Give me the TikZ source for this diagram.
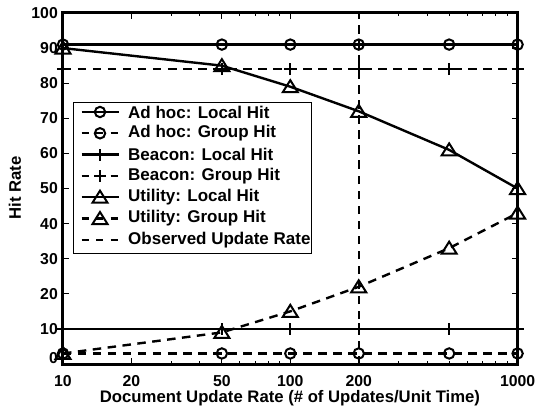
\documentclass[tikz,border=0pt]{standalone}
\usepackage{fontspec}
\setmainfont{Liberation Sans}
\begin{document}
\begin{tikzpicture}[x=1pt,y=1pt,
  declare function={px(\v)=63+227.3*(log10(\v)-1); py(\v)=46+3.51*\v;},
  lw/.style={line width=2.4pt},
  dsh/.style={dash pattern=on 8.5pt off 6.5pt},
  ldsh/.style={dash pattern=on 7pt off 7.5pt},
  txt/.style={font=\bfseries\fontsize{16.7}{16.7}\selectfont, inner sep=0pt},
  lgt/.style={font=\bfseries\fontsize{17}{17}\selectfont, inner sep=0pt},
  tck/.style={font=\bfseries\fontsize{15.8}{15.8}\selectfont, inner sep=0pt},
  mcirc/.pic={\draw[line width=2pt,solid] (0,0) circle (5.2);},
  mtri/.pic={\draw[line width=2pt,solid,line join=miter] (0,6.5) -- (-7.5,-5.5) -- (7.5,-5.5) -- cycle;},
  mplus/.pic={\draw[line width=2pt,solid] (-6,0)--(6,0) (0,-6)--(0,6);}
]
\useasboundingbox (0,0) rectangle (537,410);
\fill[white] (0,0) rectangle (537,410);

% ticks
\foreach \v in {0,10,...,100}{
  \draw[line width=1.2pt] ({px(10)},{py(\v)}) -- ++(6,0);
  \draw[line width=1.2pt] ({px(1000)},{py(\v)}) -- ++(-6,0);
}
\foreach \v in {10,20,50,100,200,1000}{
  \draw[line width=1.2pt] ({px(\v)},{py(0)}) -- ++(0,6);
  \draw[line width=1.2pt] ({px(\v)},{py(100)}) -- ++(0,-6);
}
\foreach \v in {30,40,60,70,80,90,300,400,500,600,700,800,900}{
  \draw[line width=1pt] ({px(\v)},{py(0)}) -- ++(0,3);
  \draw[line width=1pt] ({px(\v)},{py(100)}) -- ++(0,-3);
}

% tick labels
\foreach \v in {10,20,...,100}{
  \node[tck,anchor=east] (yl\v) at (58,{py(\v)}) {\v};
}
\node[tck,anchor=east] (yl0) at (58,{py(0)+6}) {0};
\foreach \v in {10,20,50,100,200,1000}{
  \node[tck] (xl\v) at ({px(\v)},29) {\v};
}
\node[txt] (xlab) at (290,12) {Document Update Rate (\# of Updates/Unit Time)};
\node[txt,rotate=90] (ylab) at (15,222) {Hit Rate};

% data lines
\draw[lw] ({px(10)},{py(91)}) -- ({px(1000)},{py(91)});
\draw[lw,dsh] ({px(10)},{py(3)}) -- ({px(1000)},{py(3)});
\draw[lw] ({px(10)},{py(10)}) -- ({px(1000)},{py(10)});
\draw[lw,dsh] ({px(10)},{py(84)}) -- ({px(1000)},{py(84)});
\draw[lw] ({px(10)},{py(90)}) -- ({px(50)},{py(85)}) -- ({px(100)},{py(79)})
  -- ({px(200)},{py(72)}) -- ({px(500)},{py(61)}) -- ({px(1000)},{py(50)});
\draw[lw,dsh] ({px(10)},{py(3)}) -- ({px(50)},{py(9)}) -- ({px(100)},{py(15)})
  -- ({px(200)},{py(22)}) -- ({px(500)},{py(33)}) -- ({px(1000)},{py(43)});
\draw[lw,dsh] ({px(200)},{py(0)}) -- ({px(200)},{py(100)});

% markers
\foreach \x in {10,50,100,200,500,1000}{
  \pic at ({px(\x)},{py(91)}) {mcirc};
  \pic at ({px(\x)},{py(3)}) {mcirc};
  \pic at ({px(\x)},{py(10)}) {mplus};
  \pic at ({px(\x)},{py(84)}) {mplus};
}
\foreach \x/\a/\b in {10/90/3,50/85/9,100/79/15,200/72/22,500/61/33,1000/50/43}{
  \pic at ({px(\x)},{py(\a)}) {mtri};
  \pic at ({px(\x)},{py(\b)}) {mtri};
}

% axes box
\draw[line width=3pt] ({px(10)},{py(0)}) rectangle ({px(1000)},{py(100)});

% legend
\draw[line width=1pt,fill=white] (73,307) rectangle (311,157);
\foreach \i/\t/\m/\d in {0/Ad hoc: Local Hit/mcirc/solid,
                          1/Ad hoc: Group Hit/mcirc/ldsh,
                          2/Beacon: Local Hit/mplus/solid,
                          3/Beacon: Group Hit/mplus/ldsh,
                          4/Utility: Local Hit/mtri/solid,
                          5/Utility: Group Hit/mtri/ldsh}{
  \draw[lw,\d] (81.5,{298-21.3*\i}) -- (118.5,{298-21.3*\i});
  \pic at (100,{298-21.3*\i}) {\m};
  \node[lgt,anchor=west] (lg\i) at (128,{298-21.3*\i}) {\t};
}
\draw[lw,ldsh] (81.5,{298-21.3*6}) -- (118.5,{298-21.3*6});
\node[lgt,anchor=west] (lg6) at (128,{298-21.3*6}) {Observed Update Rate};
\end{tikzpicture}
\end{document}
